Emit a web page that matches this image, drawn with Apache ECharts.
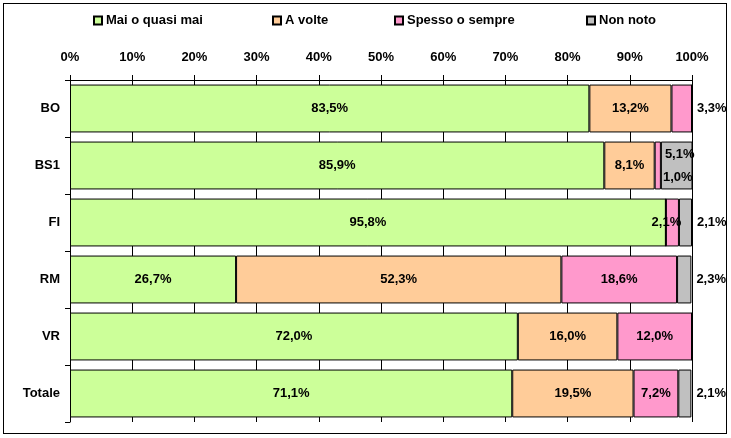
<!DOCTYPE html>
<html>
<head>
<meta charset="utf-8">
<script src="https://cdn.jsdelivr.net/npm/echarts@6/dist/echarts.min.js"></script>
<style>
html,body{margin:0;padding:0;background:#fff;}
#wrap{position:relative;width:731px;height:438px;}
#chart{width:731px;height:438px;}
#frame{position:absolute;left:3px;top:3px;width:722px;height:429px;border:1px solid #000;pointer-events:none;}
</style>
</head>
<body>
<div id="wrap"><div id="chart"></div><div id="frame"></div></div>
<script>
const categories = ['BO', 'BS1', 'FI', 'RM', 'VR', 'Totale'];
const seriesNames = ['Mai o quasi mai', 'A volte', 'Spesso o sempre', 'Non noto'];
const maiValues = [83.5, 85.9, 95.8, 26.7, 72.0, 71.1];
const aVolteValues = [13.2, 8.1, 0, 52.3, 16.0, 19.5];
const spessoValues = [3.3, 1.0, 2.1, 18.6, 12.0, 7.2];
const nonNotoValues = [0, 5.1, 2.1, 2.3, 0, 2.1];
const xTickLabels = ['0%', '10%', '20%', '30%', '40%', '50%', '60%', '70%', '80%', '90%', '100%'];

const colors = ['#CCFF99', '#FFCC99', '#FF99CC', '#C0C0C0'];
const FONT = 'Liberation Sans, Arial, sans-serif';

const labelOverrides = {
  '2-0': { position: 'right', distance: 5 },
  '2-1': { position: 'inside', offset: [20, 12] },
  '3-1': { position: 'inside', offset: [3, -11] },
  '2-2': { position: 'inside', offset: [-6, 0] },
  '3-2': { position: 'right', distance: 5 },
  '3-3': { position: 'right', distance: 5 },
  '3-5': { position: 'right', distance: 5 }
};

const fmt = v => v.toFixed(1).replace('.', ',') + '%';
const allValues = [maiValues, aVolteValues, spessoValues, nonNotoValues];

const series = allValues.map((vals, si) => ({
  name: seriesNames[si],
  type: 'bar',
  stack: 'total',
  barCategoryGap: '16%',
  itemStyle: { color: colors[si], borderColor: '#000', borderWidth: 1 },
  label: {
    show: true,
    position: 'inside',
    color: '#000',
    fontFamily: FONT,
    fontWeight: 'bold',
    fontSize: 13,
    formatter: p => fmt(p.value)
  },
  data: vals.map((v, ci) => {
    const o = labelOverrides[si + '-' + ci];
    const item = { value: v };
    if (v === 0) item.label = { show: false };
    else if (o) item.label = Object.assign({ show: true }, o);
    return item;
  })
}));

const legendLefts = [93, 272, 394, 586];
const legends = seriesNames.map((n, i) => ({
  data: [n],
  left: legendLefts[i],
  top: 14,
  icon: 'rect',
  itemWidth: 8,
  itemHeight: 8,
  itemGap: 0,
  selectedMode: false,
  textStyle: { fontFamily: FONT, fontWeight: 'bold', fontSize: 13, color: '#000', padding: [0, 0, 0, -1] },
  padding: 0
}));

const chart = echarts.init(document.getElementById('chart'));
chart.setOption({
  animation: false,
  legend: legends,
  grid: { left: 70, right: 39, top: 80, bottom: 16 },
  xAxis: {
    type: 'value',
    position: 'top',
    min: 0,
    max: 100,
    interval: 10,
    axisLine: { show: true, lineStyle: { color: '#000', width: 1 } },
    axisTick: { show: true, length: 5, lineStyle: { color: '#000' } },
    axisLabel: {
      margin: 16,
      color: '#000',
      fontFamily: FONT,
      fontWeight: 'bold',
      fontSize: 13,
      formatter: v => xTickLabels[Math.round(v / 10)]
    },
    splitLine: { show: true, lineStyle: { color: '#000', width: 1 } }
  },
  yAxis: {
    type: 'category',
    inverse: true,
    data: categories,
    axisLine: { show: true, lineStyle: { color: '#000', width: 1 } },
    axisTick: { show: true, length: 5, lineStyle: { color: '#000' } },
    axisLabel: {
      margin: 10,
      color: '#000',
      fontFamily: FONT,
      fontWeight: 'bold',
      fontSize: 13
    }
  },
  series: series
});
</script>
</body>
</html>
